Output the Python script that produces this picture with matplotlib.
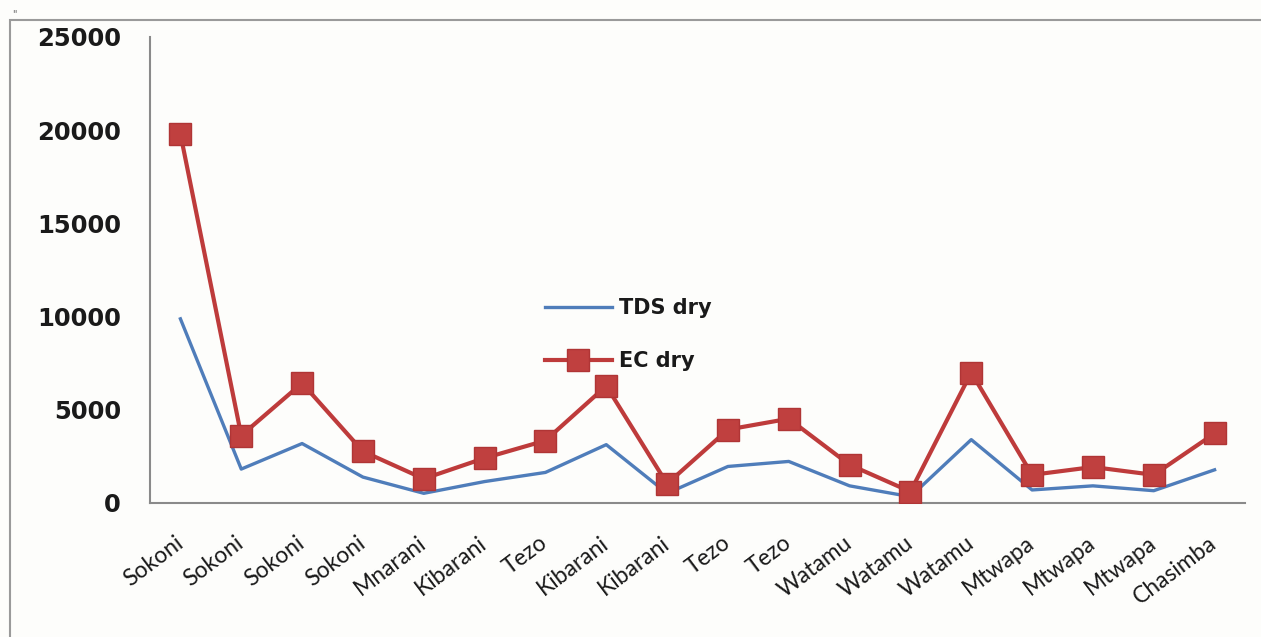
import matplotlib
matplotlib.use("Agg")
import matplotlib.pyplot as plt
from matplotlib.patches import Rectangle

categories = ["Sokoni", "Sokoni", "Sokoni", "Sokoni", "Mnarani", "Kibarani", "Tezo",
              "Kibarani", "Kibarani", "Tezo", "Tezo", "Watamu", "Watamu", "Watamu",
              "Mtwapa", "Mtwapa", "Mtwapa", "Chasimba"]
tds_dry = [9880, 1820, 3190, 1390, 520, 1150, 1640, 3130, 520, 1960, 2230, 920, 340,
           3400, 700, 920, 660, 1780]
ec_dry = [19800, 3620, 6430, 2770, 1300, 2410, 3350, 6280, 1030, 3940, 4520, 2050, 610,
          7000, 1510, 1930, 1510, 3730]
yticks = [0, 5000, 10000, 15000, 20000, 25000]

W, H = 1261, 637
fig = plt.figure(figsize=(W / 100, H / 100), dpi=100)
fig.patch.set_facecolor("#fdfdfb")

# outer frame
fig.add_artist(Rectangle((10 / W, -0.1), 1.2, 1 - 20 / H + 0.1, transform=fig.transFigure,
                         fill=False, edgecolor="#9a9a9a", linewidth=1.5))
fig.text(12 / W, 1 - 14 / H, '"', fontsize=7, color="#555555", ha="left", va="center")

ax = fig.add_axes([150 / W, 1 - 503 / H, (1245 - 150) / W, (503 - 37) / H])
ax.set_facecolor("#fdfdfb")
x = list(range(len(categories)))
ax.plot(x, tds_dry, color="#4F7DBA", linewidth=2.4, label="TDS dry", zorder=3)
ax.plot(x, ec_dry, color="#BE3B3B", linewidth=3.0, marker="s", markersize=16,
        markerfacecolor="#C0403F", markeredgecolor="#B03535", label="EC dry", zorder=4)

ax.set_xlim(-0.5, len(categories) - 0.5)
ax.set_ylim(0, 25000)
ax.set_yticks(yticks)
ax.set_yticklabels([str(v) for v in yticks], fontsize=17.5, fontweight="bold",
                   family="DejaVu Sans", color="#1a1a1a")
ax.set_xticks(x)
ax.set_xticklabels(categories, rotation=37, ha="right", va="center",
                   rotation_mode="anchor", fontsize=16.5, family="Lato", color="#1a1a1a")
ax.tick_params(axis="y", length=0, pad=21)
ax.tick_params(axis="x", length=0, pad=27)

for s in ["top", "right"]:
    ax.spines[s].set_visible(False)
for s in ["left", "bottom"]:
    ax.spines[s].set_color("#8a8a8a")
    ax.spines[s].set_linewidth(1.5)

leg = ax.legend(loc="upper left", bbox_to_anchor=(545 / W, 1 - 298 / H),
                bbox_transform=fig.transFigure, frameon=False, borderaxespad=0,
                borderpad=0, handlelength=3.2, handletextpad=0.34, labelspacing=1.6,
                prop={"family": "DejaVu Sans", "weight": "bold", "size": 15})
for t in leg.get_texts():
    t.set_color("#1a1a1a")

fig.savefig("out.png", dpi=100, facecolor=fig.get_facecolor())
